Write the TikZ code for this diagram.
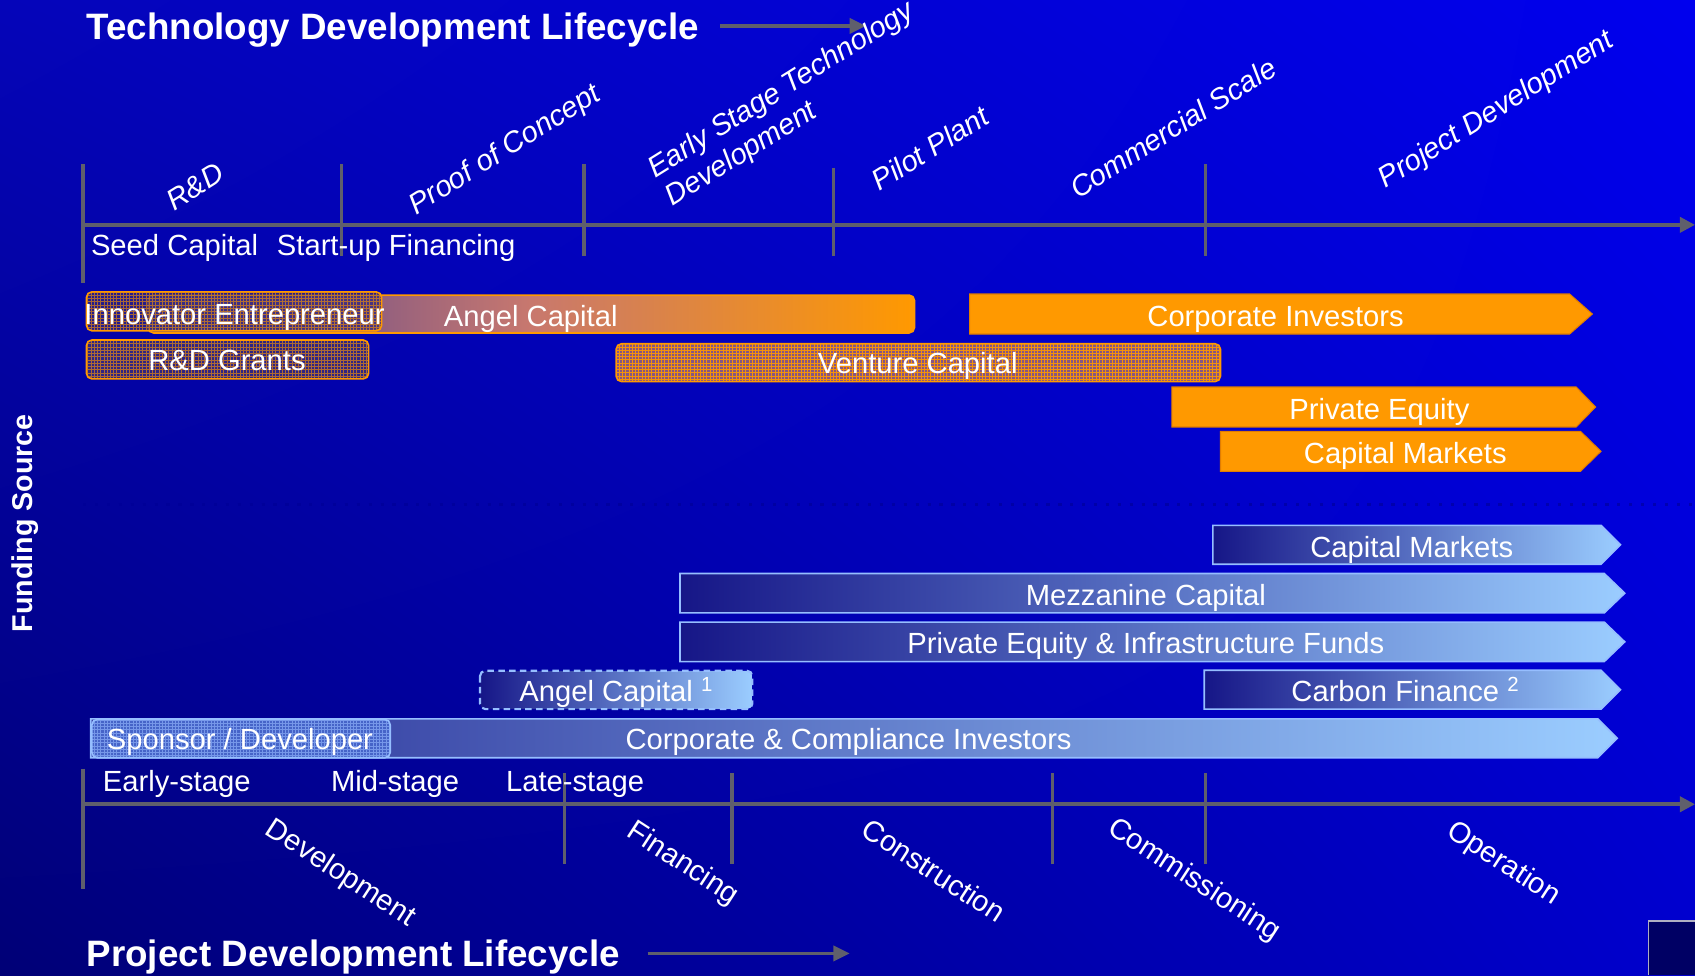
\documentclass[tikz,border=0pt]{standalone}
\usepackage{fontspec}
\setmainfont{Liberation Sans}
\usetikzlibrary{arrows.meta,shadings}
\definecolor{axisgray}{RGB}{95,95,108}
\definecolor{orng}{RGB}{255,153,0}
\definecolor{orngline}{RGB}{225,125,0}
\definecolor{navyL}{RGB}{22,22,135}
\definecolor{skyR}{RGB}{155,205,255}
\definecolor{skyline}{RGB}{150,190,255}
\definecolor{hatchblue}{RGB}{48,36,130}
\definecolor{hatchvc}{RGB}{135,85,130}
\definecolor{spbase}{RGB}{70,100,200}
\definecolor{sppat}{RGB}{150,185,255}
\definecolor{bgUL}{RGB}{5,5,185}
\definecolor{bgUR}{RGB}{0,0,238}
\definecolor{bgLL}{RGB}{0,0,118}
\definecolor{bgLR}{RGB}{0,0,205}
\definecolor{dotcol}{RGB}{0,0,150}
\definecolor{boxnavy}{RGB}{0,0,100}
\definecolor{boxedge}{RGB}{175,175,195}
\newcommand{\arrowbar}[6]{%
  \path[#1] (#2,#5) -- (#3,#5) -- (#4,{(#5+#6)/2}) -- (#3,#6) -- (#2,#6) -- cycle;}
% hatched rounded box: x0,y0,x1,y1, base fill options, grid line options, border options
\newcommand{\hatchrect}[7]{%
  \begin{scope}
    \clip[rounded corners=5pt] (#1,#2) rectangle (#3,#4);
    \fill[#5] (#1,#2) rectangle (#3,#4);
    \draw[#6, step=3pt] (#1,#2) grid (#3,#4);
  \end{scope}
  \draw[#7, rounded corners=5pt] (#1,#2) rectangle (#3,#4);}
\tikzset{
  axisline/.style={draw=axisgray, line width=3.3pt},
  axisarrow/.style={axisline, -{Triangle[length=14pt,width=14pt]}},
  titlearrow/.style={draw=axisgray, line width=3pt, -{Triangle[length=15pt,width=14pt]}},
  lbl/.style={text=white, font=\fontsize{27}{31}\selectfont, inner sep=0pt, text height=19.5pt, text depth=0pt},
  rlbl/.style={lbl, font=\fontsize{27}{31}\selectfont\itshape, rotate=32},
  dlbl/.style={lbl, rotate=-33},
  ttl/.style={text=white, font=\fontsize{34}{40}\selectfont\bfseries, inner sep=0pt, text height=24.5pt, text depth=0pt},
  orangebar/.style={fill=orng, draw=orngline, line width=1pt},
  bluebar/.style={left color=navyL, right color=skyR, draw=skyline, line width=1.5pt},
  oborder/.style={draw=orng, line width=1.5pt},
  bborder/.style={draw=skyline, line width=1.5pt},
}
\begin{document}
\begin{tikzpicture}[x=1pt,y=-1pt]
\useasboundingbox (0,0) rectangle (1568,902);
\shade[upper left=bgUL, upper right=bgUR, lower left=bgLL, lower right=bgLR] (0,0) rectangle (1568,902);

% dotted separator
\draw[dotcol, line width=3pt, dash pattern=on 3pt off 8pt, opacity=0.6] (77,466.5) -- (1568,466.5);

% titles
\node[ttl, anchor=west] (ttitle) at (80,24.7) {Technology Development Lifecycle};
\coordinate (ta1) at (666,24);
\coordinate (ta2) at (801,24);
\draw[titlearrow] (ta1) -- (ta2);
\node[ttl, anchor=west] (btitle) at (80,882) {Project Development Lifecycle};
\coordinate (ba1) at (599,882);
\coordinate (ba2) at (786,882);
\draw[titlearrow] (ba1) -- (ba2);
\node[text=white, font=\fontsize{26.5}{30}\selectfont\bfseries, inner sep=0pt, rotate=90] (fs) at (23,484) {Funding Source};

% top axis
\coordinate (tax0) at (77,208);
\coordinate (tax1) at (1568,208);
\draw[axisarrow] (tax0) -- (tax1);
\draw[axisline] (77,152) -- (77,262);
\draw[axisline] (316,152) -- (316,237);
\draw[axisline] (540,152) -- (540,237);
\draw[axisline] (771,155) -- (771,237);
\draw[axisline] (1115,152) -- (1115,237);

\node[lbl, anchor=west] (seed) at (84,227) {Seed Capital};
\node[lbl, anchor=west] (startup) at (256,227) {Start-up Financing};

\node[rlbl] (rd) at (180,172) {R\&D};
\node[rlbl] (poc) at (466,137) {Proof of Concept};
\node[text=white, font=\fontsize{27}{31}\selectfont\itshape, inner sep=0pt, rotate=32, align=left] (est) at (731,97) {Early Stage Technology\\Development};
\node[rlbl] (pp) at (860,137) {Pilot Plant};
\node[rlbl] (cs) at (1085,118) {Commercial Scale};
\node[rlbl] (pd) at (1383,100) {Project Development};

% orange funding
\path[left color={rgb,255:red,70;green,60;blue,150}, right color=orng, middle color={rgb,255:red,200;green,120;blue,110}, draw=orng, line width=1.5pt, rounded corners=5pt] (137,273) rectangle (846,308);
\hatchrect{80}{270}{353}{306}{hatchblue, opacity=0.75}{orng, line width=0.5pt, opacity=0.6}{oborder}
\hatchrect{80}{314.5}{341}{350.5}{hatchblue}{orng, line width=0.5pt, opacity=0.6}{oborder}
\hatchrect{570}{318}{1129}{353}{hatchvc}{orng, line width=0.9pt, opacity=0.9}{oborder}
\arrowbar{orangebar}{897}{1452}{1473}{272}{309}
\arrowbar{orangebar}{1084}{1458}{1476}{358}{395}
\arrowbar{orangebar}{1129}{1462}{1481}{399}{436}

\node[lbl] (innov) at (217,290) {Innovator Entrepreneur};
\node[lbl] (angel) at (491,292) {Angel Capital};
\node[lbl] (grants) at (210,333) {R\&D Grants};
\node[lbl] (vc) at (849,336) {Venture Capital};
\node[lbl] (corpinv) at (1180,292) {Corporate Investors};
\node[lbl] (pe) at (1276,378) {Private Equity};
\node[lbl] (cmo) at (1300,419) {Capital Markets};

% blue funding
\arrowbar{bluebar}{1122}{1481}{1499}{486}{522}
\arrowbar{bluebar}{629}{1484}{1503}{530.5}{567}
\arrowbar{bluebar}{629}{1484}{1503}{575.5}{612}
\arrowbar{bluebar}{1114}{1481}{1499}{620}{656}
\arrowbar{bluebar, left color={rgb,255:red,40;green,45;blue,150}}{84}{1478}{1496}{665}{701}
\path[left color=navyL, right color=skyR, draw=skyline, line width=2pt, dash pattern=on 6pt off 4pt, rounded corners=5pt] (444,620.5) rectangle (696,656);
\hatchrect{85}{665.5}{361}{701}{spbase}{sppat, line width=0.5pt, opacity=0.6}{bborder}

\node[lbl] (cmb) at (1306,506) {Capital Markets};
\node[lbl] (mezz) at (1060,550) {Mezzanine Capital};
\node[lbl] (peif) at (1060,595) {Private Equity \& Infrastructure Funds};
\node[lbl] (angel2) at (570,639) {Angel Capital \textsuperscript{1}};
\node[lbl] (carbon) at (1300,639) {Carbon Finance \textsuperscript{2}};
\node[lbl] (spons) at (222,684) {Sponsor / Developer};
\node[lbl] (cci) at (785,684) {Corporate \& Compliance Investors};

% bottom axis
\coordinate (bax0) at (77,744);
\coordinate (bax1) at (1568,744);
\draw[axisarrow] (bax0) -- (bax1);
\draw[axisline] (77,711) -- (77,822);
\draw[axisline] (522,715) -- (522,799);
\draw[axisline] (677,715) -- (677,799);
\draw[axisline] (973.5,715) -- (973.5,799);
\draw[axisline] (1115,715) -- (1115,799);

\node[lbl, anchor=west] (early) at (95,722) {Early-stage};
\node[lbl, anchor=west] (mid) at (306,722) {Mid-stage};
\node[lbl, anchor=west] (late) at (468,722) {Late-stage};

\node[dlbl] (dev) at (316,806) {Development};
\node[dlbl] (fin) at (633,797) {Financing};
\node[dlbl] (cons) at (864,805) {Construction};
\node[dlbl] (comm) at (1106,812) {Commissioning};
\node[dlbl] (oper) at (1392,797) {Operation};

% corner box
\fill[boxnavy] (1525,852) rectangle (1568,902);
\draw[boxedge, line width=1.5pt] (1525,902) -- (1525,852) -- (1568,852);
\end{tikzpicture}
\end{document}
